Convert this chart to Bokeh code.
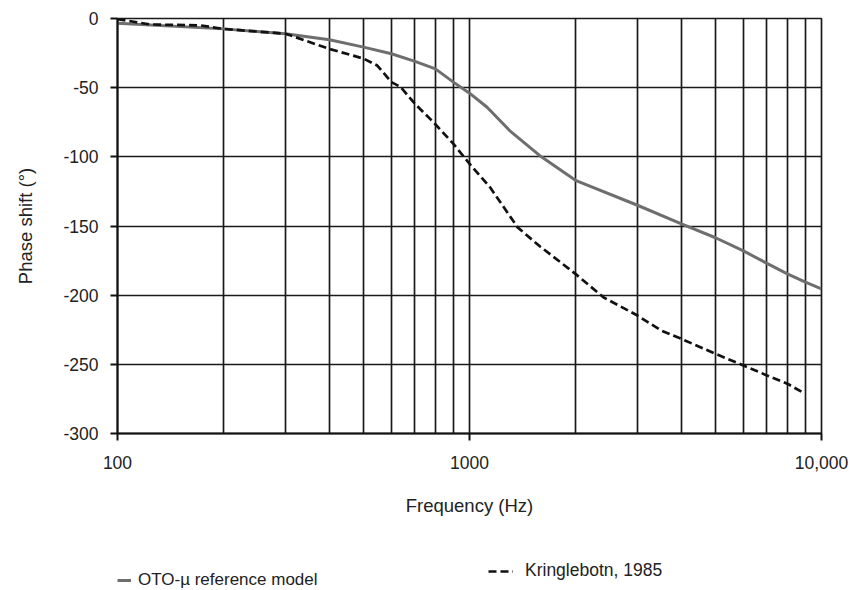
from bokeh.plotting import figure
from bokeh.models import Legend, LegendItem, FixedTicker
from bokeh.layouts import column
from bokeh.embed import file_html
from bokeh.resources import INLINE

# ---- data ----
oto_freq = [100, 200, 300, 400, 500, 600, 700, 800, 900, 1000, 1120, 1300, 1600,
            2000, 3000, 4000, 5000, 6000, 7000, 8000, 9000, 10000]
oto_phase = [-3.4, -7.5, -11, -15.4, -20.7, -25.5, -31, -36.4, -46, -54, -64, -81, -100,
             -117, -135, -148.4, -158.5, -168, -177, -184.6, -190.6, -195.4]

kr_freq = [100, 109, 124, 172, 200, 300, 400, 500, 547, 600, 637, 700, 790, 900, 1000,
           1144, 1370, 1590, 2000, 2400, 3000, 3500, 4000, 5000, 6000, 7000, 8000, 8800]
kr_phase = [-0.5, -2, -4.3, -5, -7.5, -11, -22, -29, -34, -46, -49.5, -61.7, -75, -90.6, -105,
            -122, -151, -165, -184.6, -201.5, -214.7, -225.5, -231.6, -242.4, -250.8, -258, -264, -270]

x_ticks = [100, 1000, 10000]
x_tick_labels = {100: "100", 1000: "1000", 10000: "10,000"}
x_grid = [200, 300, 400, 500, 600, 700, 800, 900, 1000,
          2000, 3000, 4000, 5000, 6000, 7000, 8000, 9000]
y_ticks = [0, -50, -100, -150, -200, -250, -300]
y_tick_labels = {0: "0", -50: "-50", -100: "-100", -150: "-150",
                 -200: "-200", -250: "-250", -300: "-300"}

series_names = ["OTO-\u00b5 reference model", "Kringlebotn, 1985"]

FONT = "Liberation Sans"
OTO_STYLE = dict(line_color="#6e6e6e", line_width=3)
KR_STYLE = dict(line_color="#111111", line_width=2.7, line_dash="8 4")

p = figure(x_axis_type="log", x_range=(100, 10000), y_range=(-300, 0),
           frame_width=704, frame_height=415,
           min_border_left=117, min_border_right=30, min_border_top=18, min_border_bottom=100,
           output_backend="svg", toolbar_location=None)

p.background_fill_color = "white"
p.border_fill_color = "white"
p.outline_line_color = "#1a1a1a"
p.outline_line_width = 1.7

# axes
p.xaxis.ticker = FixedTicker(ticks=x_ticks, minor_ticks=[])
p.xaxis.major_label_overrides = x_tick_labels
p.yaxis.ticker = FixedTicker(ticks=y_ticks, minor_ticks=[])
p.yaxis.major_label_overrides = y_tick_labels
for ax in (p.xaxis[0], p.yaxis[0]):
    ax.axis_line_color = "#111111"
    ax.axis_line_width = 2
    ax.major_tick_line_color = "#111111"
    ax.major_tick_line_width = 2
    ax.major_tick_in = 0
    ax.major_tick_out = 7
    ax.minor_tick_line_color = None
    ax.major_label_text_font = FONT
    ax.major_label_text_font_size = "17.5px"
    ax.major_label_text_color = "#222222"
    ax.axis_label_text_font = FONT
    ax.axis_label_text_font_size = "18.5px"
    ax.axis_label_text_font_style = "normal"
    ax.axis_label_text_color = "#222222"

p.xaxis.axis_label = "Frequency (Hz)"
p.yaxis.axis_label = "Phase shift (\u00b0)"
p.xaxis.major_label_standoff = 15
p.yaxis.major_label_standoff = 12
p.xaxis.axis_label_standoff = 23
p.yaxis.axis_label_standoff = 24

# grids
p.xgrid.ticker = FixedTicker(ticks=x_grid, minor_ticks=[])
p.ygrid.ticker = FixedTicker(ticks=y_ticks, minor_ticks=[])
for g in (p.xgrid[0], p.ygrid[0]):
    g.grid_line_color = "#1a1a1a"
    g.grid_line_width = 1.7
    g.grid_line_alpha = 1.0

# series
p.line(oto_freq, oto_phase, **OTO_STYLE)
p.line(kr_freq, kr_phase, **KR_STYLE)

# ---- legend strip below the chart ----
lg = figure(width=851, height=57, x_axis_type="log", x_range=(100, 10000), y_range=(-300, 0),
            x_axis_location=None, y_axis_location=None, min_border=0,
            output_backend="svg", toolbar_location=None)
lg.outline_line_color = None
lg.background_fill_color = "white"
lg.border_fill_color = "white"
lg.xgrid.visible = False
lg.ygrid.visible = False
k1 = lg.line(oto_freq, oto_phase, visible=False, **OTO_STYLE)
k2 = lg.line(kr_freq, kr_phase, visible=False, **KR_STYLE)

common = dict(padding=0, margin=0, glyph_height=16, label_height=20,
              label_text_font=FONT, label_text_color="#222222",
              border_line_alpha=0, background_fill_alpha=0)
leg1 = Legend(items=[LegendItem(label=series_names[0], renderers=[k1])],
              location=(0, 0), glyph_width=14, label_standoff=7,
              label_text_font_size="17px", **common)
leg2 = Legend(items=[LegendItem(label=series_names[1], renderers=[k2])],
              location=(371, 9), glyph_width=25, label_standoff=12,
              label_text_font_size="17.5px", **common)
lg.add_layout(leg1, "center")
lg.add_layout(leg2, "center")

layout = column(p, lg, spacing=0)
open("out.html", "w").write(file_html(layout, INLINE))
